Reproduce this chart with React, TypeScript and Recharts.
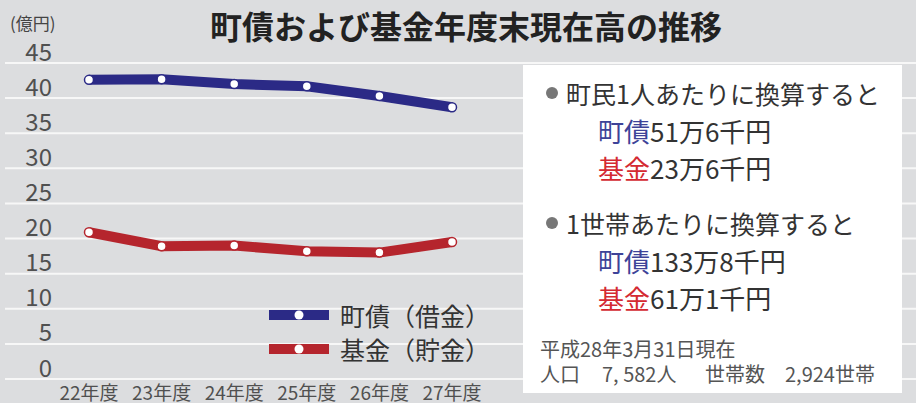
import { CartesianGrid, Line, LineChart, XAxis, YAxis } from "recharts";

// 年度別の年度末現在高（億円）
const years = ["22年度", "23年度", "24年度", "25年度", "26年度", "27年度"];
const chosai = [42.6, 42.7, 42.0, 41.7, 40.3, 38.7]; // 町債（借金）
const kikin = [20.9, 18.9, 19.0, 18.2, 18.0, 19.5]; // 基金（貯金）
const yTicks = [0, 5, 10, 15, 20, 25, 30, 35, 40, 45];

const data = years.map((year, i) => ({ year, chosai: chosai[i], kikin: kikin[i] }));

const BLUE = "#2b2a86";
const RED = "#b5252d";
const FONT = '"Noto Sans CJK JP", "Noto Sans", sans-serif';

const series = [
  { key: "chosai", name: "町債（借金）", color: BLUE },
  { key: "kikin", name: "基金（貯金）", color: RED },
];

function YTick({ y, payload }: any) {
  return (
    <text x={52} y={y - 13} textAnchor="end" dominantBaseline="central" fontSize={24} fill="#505050" fontFamily={FONT}>
      {payload.value}
    </text>
  );
}

function ChartLegend() {
  return (
    <div style={{ position: "absolute", left: 269, top: 298 }}>
      {series.map((s) => (
        <div key={s.key} style={{ display: "flex", alignItems: "center", height: 34 }}>
          <svg width={60} height={14} style={{ marginRight: 11 }}>
            <line x1={0} y1={7} x2={60} y2={7} stroke={s.color} strokeWidth={10} />
            <circle cx={30} cy={7} r={4.5} fill="#fff" />
          </svg>
          <span style={{ fontSize: 25, color: "#333", lineHeight: "34px" }}>{s.name}</span>
        </div>
      ))}
    </div>
  );
}

const dot = (color: string) => ({ r: 4.5, fill: "#fff", stroke: color, strokeWidth: 1.5 });

export default function App() {
  return (
    <div style={{ position: "relative", width: 916, height: 403, background: "#dcdddf", fontFamily: FONT, overflow: "hidden" }}>
      <style>{`body{margin:0}`}</style>
      <LineChart width={916} height={403} data={data} margin={{ top: 63, right: 0, bottom: 0, left: 4 }} style={{ fontFamily: FONT }}>
        <CartesianGrid horizontal vertical={false} stroke="#f7f7f7" strokeWidth={2} />
        <XAxis
          dataKey="year"
          height={24}
          axisLine={false}
          tickLine={false}
          padding={{ left: 84, right: 464 }}
          interval={0}
          tick={{ fontSize: 19, fill: "#505050" }}
        />
        <YAxis width={1} domain={[0, 45]} ticks={yTicks} interval={0} axisLine={false} tickLine={false} tick={<YTick />} />
        {series.map((s) => (
          <Line
            key={s.key}
            name={s.name}
            dataKey={s.key}
            stroke={s.color}
            strokeWidth={10}
            dot={dot(s.color)}
            activeDot={false}
            isAnimationActive={false}
          />
        ))}
      </LineChart>
      <ChartLegend />

      <div style={{ position: "absolute", left: 10, top: 10, fontSize: 17, color: "#444" }}>(億円)</div>
      <div style={{ position: "absolute", left: 210, top: 2, width: 510, textAlign: "center", fontSize: 32, fontWeight: 700, color: "#222", whiteSpace: "nowrap" }}>
        町債および基金年度末現在高の推移
      </div>

      <div style={{ position: "absolute", left: 523, top: 65, width: 379, height: 328, background: "#fff", color: "#333" }}>
        <Row top={13} left={23} bullet>町民1人あたりに換算すると</Row>
        <Row top={50} left={75} size={26}><span style={{ color: "#3d4398" }}>町債</span>51万6千円</Row>
        <Row top={87} left={75} size={26}><span style={{ color: "#d42a32" }}>基金</span>23万6千円</Row>
        <Row top={143} left={23} bullet>1世帯あたりに換算すると</Row>
        <Row top={180} left={75} size={26}><span style={{ color: "#3d4398" }}>町債</span>133万8千円</Row>
        <Row top={217} left={75} size={26}><span style={{ color: "#d42a32" }}>基金</span>61万1千円</Row>
        <Small top={274} left={17}>平成28年3月31日現在</Small>
        <Small top={299} left={17}>人口</Small>
        <Small top={299} left={79}>7, 582人</Small>
        <Small top={299} left={182}>世帯数</Small>
        <Small top={299} left={262}>2,924世帯</Small>
      </div>
    </div>
  );
}

function Row({ top, left, bullet, size = 25, children }: any) {
  return (
    <div style={{ position: "absolute", top, left, height: 30, display: "flex", alignItems: "center", fontSize: size, whiteSpace: "nowrap" }}>
      {bullet && <span style={{ display: "inline-block", width: 12, height: 12, borderRadius: 6, background: "#777", marginRight: 8 }} />}
      {children}
    </div>
  );
}

function Small({ top, left, children }: any) {
  return (
    <div style={{ position: "absolute", top, left, fontSize: 20, lineHeight: "20px", color: "#555", whiteSpace: "nowrap" }}>{children}</div>
  );
}
